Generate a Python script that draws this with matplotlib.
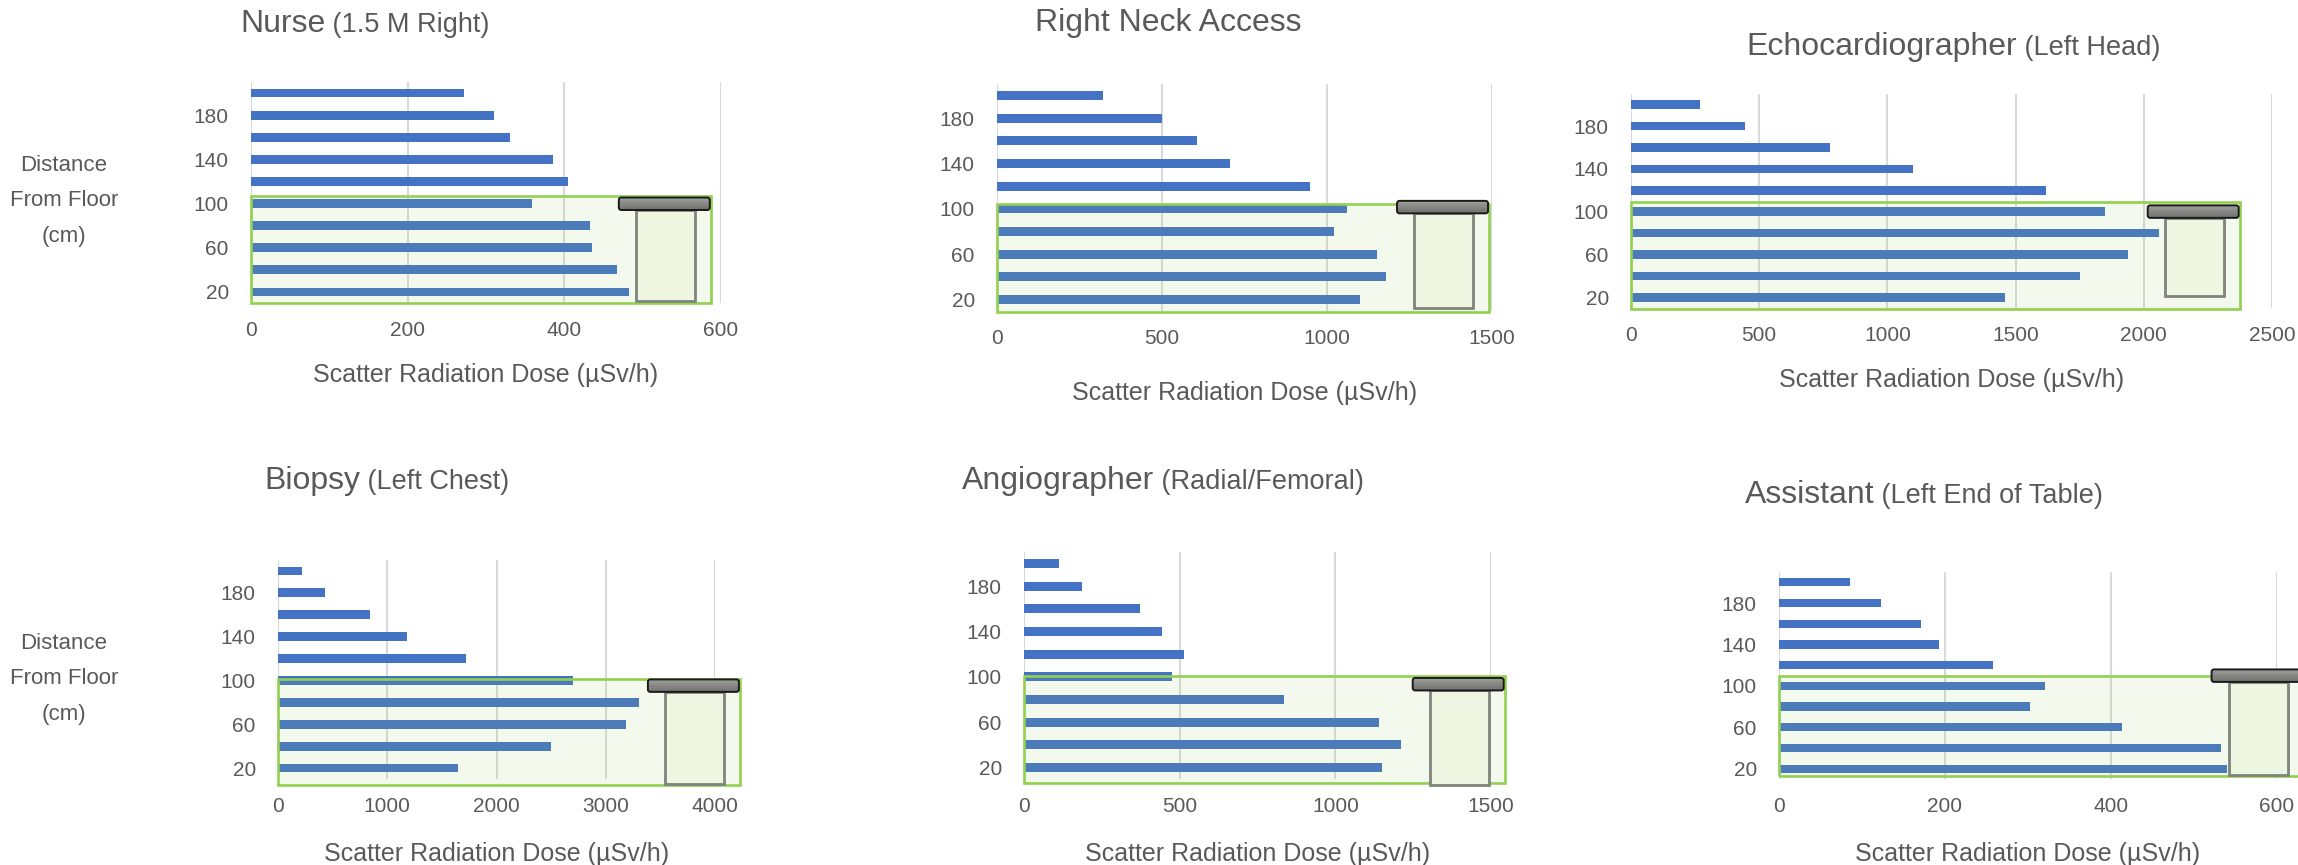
import numpy as np
import matplotlib.pyplot as plt
from matplotlib.patches import Rectangle, FancyBboxPatch
from matplotlib.transforms import IdentityTransform

plt.rcParams['font.family'] = ['Liberation Sans', 'DejaVu Sans']

W, H = 2298, 865
DPI = 100

# distance from floor (cm), one bar per height
heights = [20, 40, 60, 80, 100, 120, 140, 160, 180, 200]

# scatter dose (uSv/h), bottom (20 cm) to top (200 cm)
nurse = [482, 467, 435, 433, 359, 405, 385, 330, 310, 272]
neck = [1100, 1180, 1151, 1020, 1060, 948, 706, 605, 499, 320]
echo = [1459, 1750, 1939, 2058, 1849, 1618, 1099, 777, 446, 268]
biopsy = [1647, 2500, 3187, 3308, 2697, 1719, 1180, 839, 431, 220]
angio = [1151, 1210, 1140, 836, 474, 513, 444, 373, 186, 112]
assistant = [540, 532, 413, 302, 320, 258, 193, 171, 123, 85]

titles = [("Nurse", "(1.5 M Right)"),
          ("Right Neck Access", ""),
          ("Echocardiographer", "(Left Head)"),
          ("Biopsy", "(Left Chest)"),
          ("Angiographer", "(Radial/Femoral)"),
          ("Assistant", "(Left End of Table)")]
series = [nurse, neck, echo, biopsy, angio, assistant]
x_max = [600, 1500, 2500, 4000, 1500, 600]
x_step = [200, 500, 500, 1000, 500, 200]

# layout, image pixels: axes left, right, top (y=210), bottom (y=10)
boxes = [(251, 721, 82, 303), (997, 1492, 84, 311), (1631, 2272, 94, 308),
         (278, 715, 560, 779), (1024, 1491, 552, 779), (1779, 2277, 572, 779)]
# title centre x, baseline y
title_pos = [(365, 32), (1168, 31), (1953, 55), (387, 489), (1163, 489), (1924, 503)]
xlabel_off = [72, 82, 72, 75, 75, 75]

# shaded zone (table height region): right dose, bottom cm, top cm
zone_right = [587, 1491, 2374, 4228, 1544, 632]
zone_bottom = [10, 9.4, 9.4, 4.2, 6.4, 13]
zone_top = [107, 104.4, 109, 101.6, 100.8, 109.4]
# table top offset vs zone top, pedestal bottom offset vs zone bottom (pixels)
table_dy = [1.7, -3, 3.3, 0.7, 2, -6.7]
leg_dy = [-1.7, -4, -12.3, -1.7, 1.7, -1.3]

TXT = '#595959'
BAR = '#4472C4'
GRID = '#d9d9d9'
GREEN = '#92d050'

fig = plt.figure(figsize=(W / DPI, H / DPI), dpi=DPI)


def draw_table(ax, xr, ytop, ybot, dy_top, dy_leg):
    # zone corners in display pixels
    px_r, py_t = ax.transData.transform((xr, ytop))
    _, py_b = ax.transData.transform((xr, ybot))
    tw, th = 91, 12.5
    top_y = py_t - dy_top
    left = px_r - tw - 1
    leg = Rectangle((left + 17, py_b - dy_leg), 59, (top_y - th) - (py_b - dy_leg),
                    facecolor='#eef6e2', edgecolor='#80847c', lw=2,
                    transform=IdentityTransform(), zorder=6)
    fig.add_artist(leg)
    slab = FancyBboxPatch((left, top_y - th), tw, th,
                          boxstyle='round,pad=0,rounding_size=2.5',
                          facecolor='none', edgecolor='#1a1a1a', lw=1.4,
                          transform=IdentityTransform(), zorder=8)
    fig.add_artist(slab)
    n = 10
    cols = np.linspace(0.62, 0.45, n)
    for k in range(n):
        c = cols[k]
        r = Rectangle((left, top_y - (k + 1) * th / n), tw, th / n + 0.5,
                      facecolor=(c, c * 1.01, c * 0.98), edgecolor='none',
                      transform=IdentityTransform(), zorder=7)
        r.set_clip_path(slab)
        fig.add_artist(r)


def draw_title(main, sub, cx, base):
    r = fig.canvas.get_renderer()
    y = 1 - base / H
    t1 = fig.text(0, y, main, fontsize=23, color=TXT, va='baseline', ha='left')
    t2 = fig.text(0, y, (' ' + sub) if sub else '', fontsize=19.5, color=TXT,
                  va='baseline', ha='left')
    w1 = t1.get_window_extent(r).width
    w2 = t2.get_window_extent(r).width if sub else 0
    x0 = cx - (w1 + w2) / 2
    t1.set_x(x0 / W)
    t2.set_x((x0 + w1) / W)


for i in range(6):
    l, rgt, t, b = boxes[i]
    ax = fig.add_axes([l / W, 1 - b / H, (rgt - l) / W, (b - t) / H])
    ax.barh(heights, series[i], height=8, color=BAR, zorder=2)
    ax.set_xlim(0, x_max[i])
    ax.set_ylim(10, 210)
    ax.set_xticks(np.arange(0, x_max[i] + 1, x_step[i]))
    ax.set_yticks([20, 60, 100, 140, 180])
    ax.grid(axis='x', color=GRID, lw=1.5, zorder=0)
    ax.set_axisbelow(True)
    for s in ax.spines.values():
        s.set_visible(False)
    ax.axvline(0, color=GRID, lw=1.5, zorder=1)
    ax.tick_params(axis='both', length=0, labelsize=15, labelcolor=TXT)
    ax.tick_params(axis='x', pad=13)
    ax.tick_params(axis='y', pad=16)
    ax.set_xlabel('Scatter Radiation Dose (µSv/h)', fontsize=18, color=TXT)
    ax.xaxis.set_label_coords(0.5, -xlabel_off[i] / (b - t))
    ax.xaxis.label.set_va('center')

    zone = Rectangle((0, zone_bottom[i]), zone_right[i], zone_top[i] - zone_bottom[i],
                     facecolor=GREEN, alpha=0.1, edgecolor='none', zorder=3, clip_on=False)
    ax.add_patch(zone)
    edge = Rectangle((0, zone_bottom[i]), zone_right[i], zone_top[i] - zone_bottom[i],
                     facecolor='none', edgecolor=GREEN, lw=1.9, zorder=4, clip_on=False)
    ax.add_patch(edge)
    draw_table(ax, zone_right[i], zone_top[i], zone_bottom[i], table_dy[i], leg_dy[i])
    draw_title(titles[i][0], titles[i][1], *title_pos[i])

for yc in (201, 679):
    fig.text(64 / W, 1 - yc / H, 'Distance\nFrom Floor\n(cm)', fontsize=16, color=TXT,
             ha='center', va='center', multialignment='center', linespacing=1.9)

fig.savefig('out.png', dpi=DPI)
